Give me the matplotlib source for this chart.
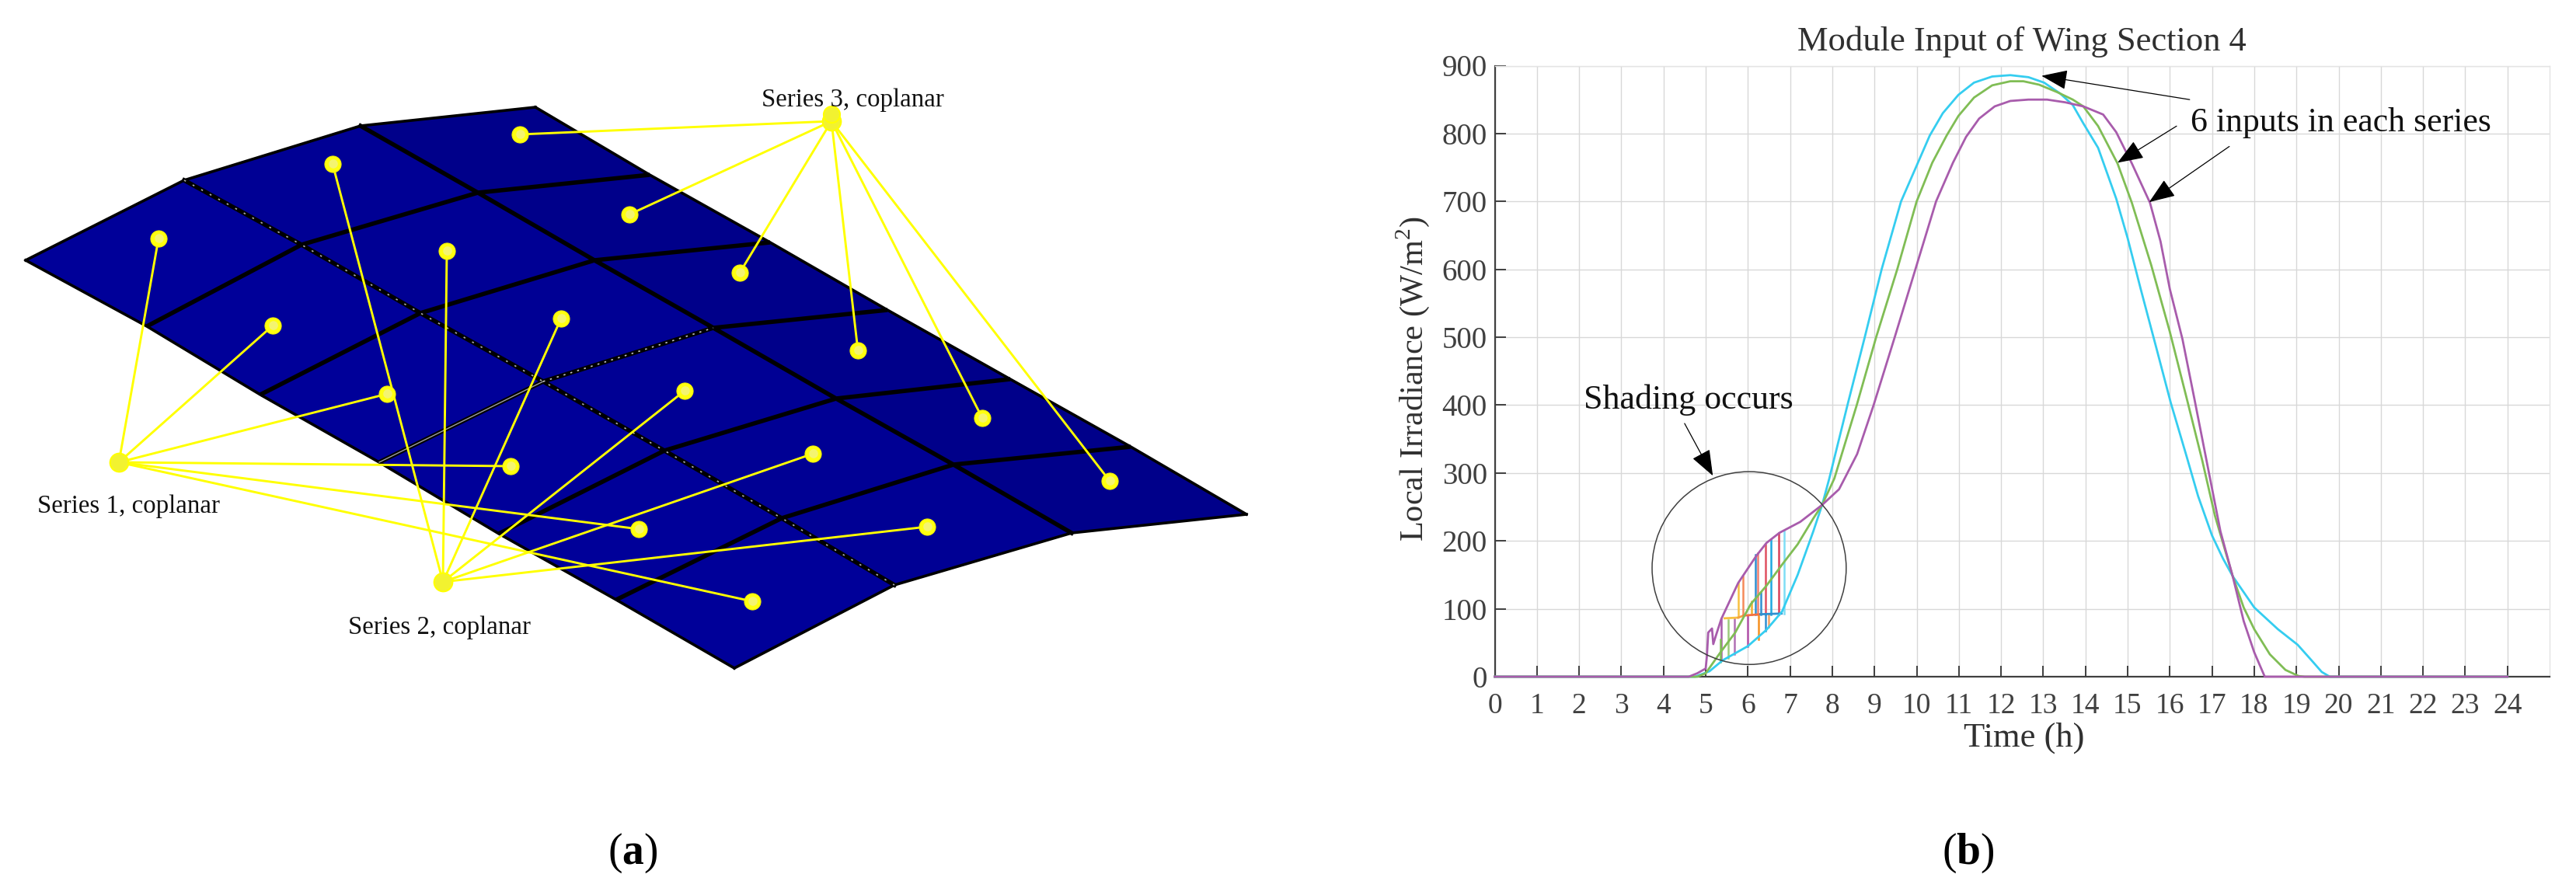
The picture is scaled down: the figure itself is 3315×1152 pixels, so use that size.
import numpy as np
import matplotlib
matplotlib.use('Agg')
import matplotlib.pyplot as plt
from matplotlib.patches import Polygon, Ellipse

plt.rcParams['font.family'] = ['Liberation Serif', 'DejaVu Serif']
plt.rcParams['mathtext.fontset'] = 'custom'
plt.rcParams['mathtext.rm'] = 'Liberation Serif'
plt.rcParams['mathtext.bf'] = 'Liberation Serif:bold'

# ---- panel (a): wing mesh, picture coordinates ----
# one row per chord line, nodes run from the left edge to the tip
bottom_x = [33, 189, 335, 488, 642, 793, 945]
bottom_y = [335, 420, 508, 595, 687, 772, 860]
line_a_x = [237, 388, 541, 699, 855, 1006, 1151]
line_a_y = [232, 315, 403, 491, 580, 667, 753]
line_b_x = [464, 615, 765, 918, 1076, 1227, 1379]
line_b_y = [162, 248, 335, 422, 513, 598, 686]
top_x = [689, 836, 991, 1142, 1300, 1455, 1604]
top_y = [138, 225, 312, 399, 488, 575, 662]

hub1 = (153, 595)
hub2 = (570, 749)
hub3 = (1070, 156)
series1_x = [204, 351, 498, 657, 822, 968]
series1_y = [307, 419, 507, 600, 681, 774]
series2_x = [428, 575, 722, 881, 1046, 1193]
series2_y = [211, 323, 410, 503, 584, 678]
series3_x = [669, 810, 952, 1104, 1264, 1428]
series3_y = [173, 276, 351, 451, 538, 619]

# ---- panel (b): irradiance curves ----
cyan_h = [0, 4.75, 5.09, 5.4, 6, 6.44, 6.81, 7.18, 7.55, 7.76, 7.93, 8.36, 8.77, 9.17, 9.63, 10.03, 10.31, 10.62,
          10.99, 11.36, 11.79, 12.22, 12.65, 13.02, 13.4, 13.7, 13.95, 14.3, 14.73, 15, 15.31, 15.69, 16.02, 16.4,
          16.67, 17, 17.26, 17.49, 18, 18.56, 19.03, 19.36, 19.6, 19.79, 24]
cyan_v = [0, 0, 8, 24, 45, 69, 96, 150, 214, 253, 292, 400, 500, 600, 700, 757, 797, 830,
          857, 875, 884, 886, 883, 875, 859, 842, 815, 779, 704, 646, 571, 482, 404, 324,
          266, 208, 174, 148, 102, 70, 47, 24, 7, 0, 0]
green_h = [0, 4.8, 5, 5.34, 5.7, 6.07, 6.44, 6.81, 7.18, 7.55, 7.76, 8.05, 8.58, 9.04, 9.54, 10, 10.37, 10.71,
           10.99, 11.36, 11.79, 12.22, 12.53, 12.9, 13.33, 13.7, 13.95, 14.3, 14.76, 15.1, 15.56, 16, 16.4,
           16.77, 17.07, 17.49, 17.75, 18, 18.37, 18.74, 19.05, 19.2, 24]
green_v = [0, 0, 5, 35, 65, 107, 134, 165, 195, 233, 253, 292, 400, 500, 600, 700, 757, 797,
           826, 853, 871, 877, 877, 872, 861, 850, 840, 811, 756, 698, 606, 508, 410,
           318, 237, 148, 102, 70, 33, 10, 1, 0, 0]
purple_h = [0, 4.6, 4.8, 5, 5.03, 5.06, 5.15, 5.18, 5.25, 5.37, 5.77, 6.2, 6.44, 6.75, 7.24, 7.76, 8.16, 8.31,
            8.59, 8.98, 9.48, 9.97, 10.46, 10.86, 11.17, 11.48, 11.85, 12.22, 12.65, 13.09, 13.52, 13.95, 14.42,
            14.73, 15.1, 15.53, 15.78, 16, 16.3, 16.58, 16.89, 17.2, 17.49, 17.75, 18, 18.25, 24]
purple_v = [0, 0, 5, 12, 31, 65, 71, 48, 62, 85, 138, 178, 197, 212, 228, 253, 276, 294,
            328, 400, 500, 600, 700, 757, 795, 822, 840, 848, 850, 850, 846, 840, 828,
            802, 756, 698, 641, 571, 497, 410, 312, 214, 148, 82, 36, 0, 0]

# vertical jumps while the shading is on
jump_h = [5.37, 5.53, 5.35, 5.68, 5.77, 5.88, 6.0, 6.09, 6.18, 6.23, 6.26, 6.3, 6.41, 6.42, 6.5, 6.55, 6.74, 6.86]
jump_low = [25, 28, 22, 33, 88, 90, 45, 92, 92, 92, 55, 92, 92, 68, 73, 92, 92, 93]
jump_high = [85, 83, 55, 87, 138, 148, 89, 111, 180, 182, 90, 125, 195, 92, 92, 203, 212, 215]
jump_colors = ['#A85CAC', '#9CCB7C', '#80BD55', '#B070B4', '#F8C040', '#F58A5A', '#B050A8', '#F4B030', '#2F8FD0',
               '#F08070', '#F59020', '#2F8FD0', '#E05060', '#2F8FD0', '#F5A060', '#1FA8E0', '#D8405A', '#7FDDF5']
flat_h = [5.45, 5.77, 5.9, 6.3, 6.8]
flat_v = [86, 87, 90, 92, 93]
flat_colors = ['#F8C040', '#F5A040', '#F57040', '#2F8FD0']

hour_ticks = list(range(0, 25))
value_ticks = list(range(0, 1000, 100))

fig = plt.figure(figsize=(33.15, 11.52), dpi=100)

# left panel is drawn in image pixels
ax_a = fig.add_axes([0, 0, 0.5, 1])
ax_a.set_xlim(0, 1657.5)
ax_a.set_ylim(1152, 0)
ax_a.axis('off')

rows_x = [bottom_x, line_a_x, line_b_x, top_x]
rows_y = [bottom_y, line_a_y, line_b_y, top_y]
band_colors = ['#000099', '#000094', '#00008A']
for r in range(3):
    for c in range(6):
        corners = [(rows_x[r][c], rows_y[r][c]), (rows_x[r][c + 1], rows_y[r][c + 1]),
                   (rows_x[r + 1][c + 1], rows_y[r + 1][c + 1]), (rows_x[r + 1][c], rows_y[r + 1][c])]
        ax_a.add_patch(Polygon(corners, closed=True, facecolor=band_colors[r], edgecolor='none', zorder=1))

# outline
ax_a.plot(bottom_x, bottom_y, color='black', lw=2.6, zorder=2)
ax_a.plot(top_x, top_y, color='black', lw=2.6, zorder=2)
ax_a.plot([row[0] for row in rows_x], [row[0] for row in rows_y], color='black', lw=2.6, zorder=2)
ax_a.plot([row[-1] for row in rows_x], [row[-1] for row in rows_y], color='black', lw=2.6, zorder=2)

# inner chord lines
for c in range(1, 6):
    ax_a.plot([row[c] for row in rows_x], [row[c] for row in rows_y], color='black', lw=4.0, zorder=2,
              solid_capstyle='butt')
# the row with the specks in it
ax_a.plot(line_a_x, line_a_y, color='black', lw=4.0, zorder=2)
ax_a.plot(line_a_x, line_a_y, color='#b0b0b0', lw=1.2, ls=(0, (1.5, 6)), zorder=3)
ax_a.plot(line_b_x, line_b_y, color='black', lw=4.0, zorder=2)
ax_a.plot([bottom_x[3], line_a_x[3]], [bottom_y[3], line_a_y[3]], color='#a0a0a0', lw=1.0, zorder=3)
ax_a.plot([line_a_x[3], line_b_x[3]], [line_a_y[3], line_b_y[3]], color='#c0c0c0', lw=1.2,
          ls=(0, (1.5, 4)), zorder=3)

for hub, xs, ys in [(hub1, series1_x, series1_y), (hub2, series2_x, series2_y), (hub3, series3_x, series3_y)]:
    for x, y in zip(xs, ys):
        ax_a.plot([hub[0], x], [hub[1], y], color='#FFFF00', lw=2.1, zorder=4)
    ax_a.scatter(xs, ys, s=230, color='#FFFF10', edgecolors='#F4F400', linewidths=0.8, zorder=5)
    ax_a.scatter(np.array(xs) + 1, ys, s=70, color='#F4F470', edgecolors='none', zorder=6)
    ax_a.scatter([hub[0]], [hub[1]], s=290, color='#F2F230', edgecolors='#FFFF00', linewidths=1.5, zorder=5)
ax_a.scatter([hub3[0]], [hub3[1] - 9], s=230, color='#F2F230', edgecolors='#FFFF00', linewidths=1.5, zorder=5)

ax_a.text(166, 652, 'Series 1, coplanar', fontsize=23.7, ha='center', va='center', color='#111111', zorder=7)
ax_a.text(565, 808, 'Series 2, coplanar', fontsize=23.7, ha='center', va='center', color='#111111', zorder=7)
ax_a.text(1097, 129, 'Series 3, coplanar', fontsize=23.7, ha='center', va='center', color='#111111', zorder=7)

# right panel
px_w, px_h = 3315.0, 1152.0
ax_b = fig.add_axes([1923.5 / px_w, 1 - 871 / px_h, (3281 - 1923.5) / px_w, (871 - 84.5) / px_h])
ax_b.set_xlim(0, 25)
ax_b.set_ylim(0, 900)
ax_b.set_xticks(hour_ticks)
ax_b.set_yticks(value_ticks)
ax_b.grid(True, color='#d8d8d8', lw=1.0, ls='-')
ax_b.set_axisbelow(True)
ax_b.tick_params(direction='in', length=10, width=1.4, color='#404040', labelcolor='#404040')
ax_b.tick_params(axis='x', pad=15, labelsize=27)
ax_b.tick_params(axis='y', pad=7, labelsize=28)
for side in ['top', 'right']:
    ax_b.spines[side].set_color('#e4e4e4')
    ax_b.spines[side].set_linewidth(1.0)
for side in ['left', 'bottom']:
    ax_b.spines[side].set_color('#404040')
    ax_b.spines[side].set_linewidth(1.6)

for i in range(len(jump_h)):
    ax_b.plot([jump_h[i], jump_h[i]], [jump_low[i], jump_high[i]], color=jump_colors[i], lw=1.8, zorder=3)
for i in range(len(flat_colors)):
    ax_b.plot(flat_h[i:i + 2], flat_v[i:i + 2], color=flat_colors[i], lw=2.0, zorder=3)

ax_b.plot(cyan_h, cyan_v, color='#35CDF0', lw=2.0, zorder=4, clip_on=False)
ax_b.plot(green_h, green_v, color='#80BD55', lw=2.0, zorder=5, clip_on=False)
ax_b.plot(purple_h, purple_v, color='#A85CAC', lw=2.0, zorder=6, clip_on=False)

ax_b.add_patch(Ellipse((6.03, 160), 4.6, 284, fill=False, edgecolor='#404040', lw=1.1, zorder=7))

arrow = dict(arrowstyle='-|>,head_length=2.1,head_width=0.8', color='black', lw=0.9, shrinkA=0, shrinkB=0)
ax_b.annotate('', xy=(5.17, 296), xytext=(4.50, 373), arrowprops=arrow, zorder=8)
ax_b.annotate('', xy=(12.96, 885), xytext=(16.47, 850), arrowprops=arrow, zorder=8)
ax_b.annotate('', xy=(14.76, 757), xytext=(16.16, 811), arrowprops=arrow, zorder=8)
ax_b.annotate('', xy=(15.51, 699), xytext=(17.41, 781), arrowprops=arrow, zorder=8)

fig.text(2173 / px_w, 1 - 515 / px_h, 'Shading occurs', fontsize=31.7, ha='center', va='center', color='#111111')
fig.text(3012 / px_w, 1 - 158 / px_h, '6 inputs in each series', fontsize=31.6, ha='center', va='center',
         color='#111111')
fig.text(2602 / px_w, 1 - 54 / px_h, 'Module Input of Wing Section 4', fontsize=32, ha='center', va='center',
         color='#303030')
fig.text(2605 / px_w, 1 - 950 / px_h, 'Time (h)', fontsize=32, ha='center', va='center', color='#303030')
fig.text(1818 / px_w, 1 - 488 / px_h, 'Local Irradiance (W/m$^{2}$)', fontsize=30.5, rotation=90, ha='center',
         va='center', color='#303030')

# captions
fig.text(814 / px_w, 1 - 1098 / px_h, r'($\mathbf{a}$)', fontsize=40, ha='center', va='center', color='black')
fig.text(2533 / px_w, 1 - 1098 / px_h, r'($\mathbf{b}$)', fontsize=40, ha='center', va='center', color='black')

fig.savefig('out.png', dpi=100)
